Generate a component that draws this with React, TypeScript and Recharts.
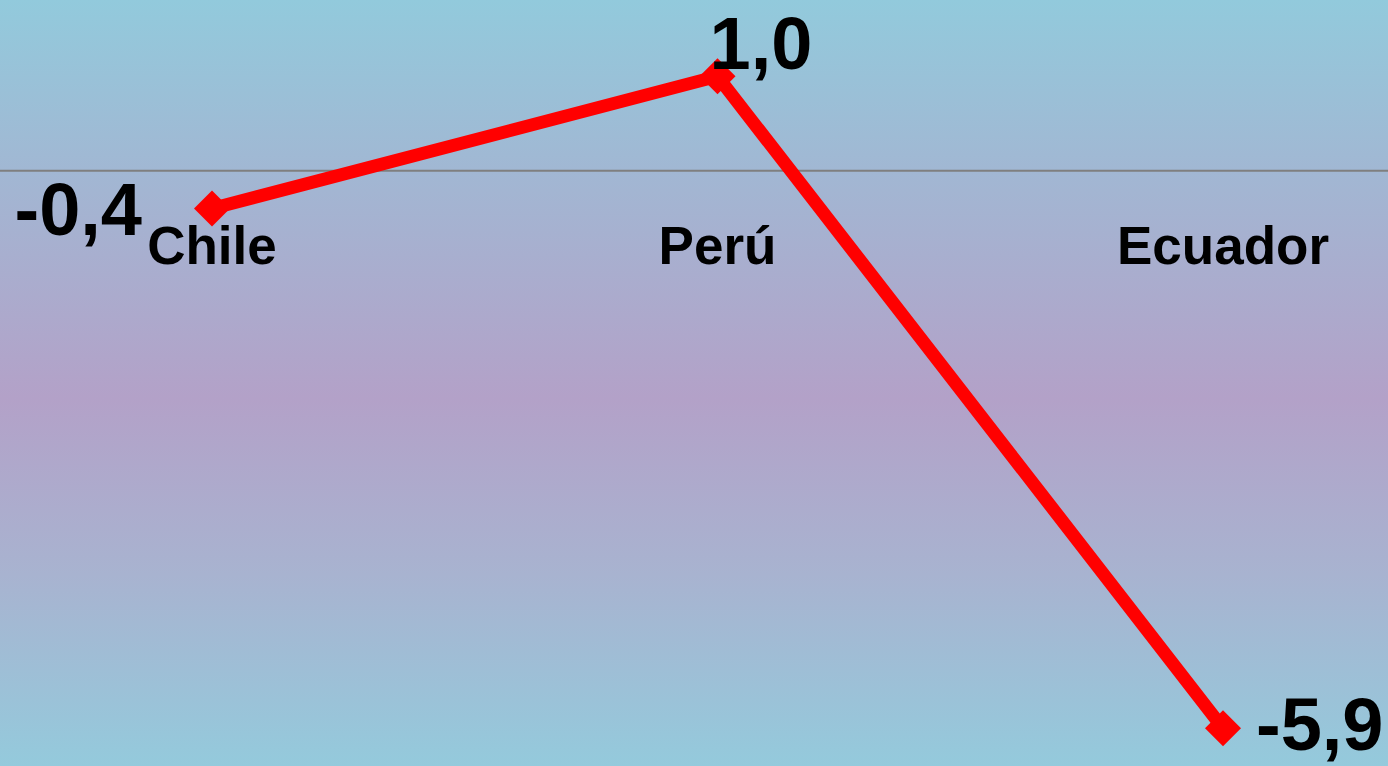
import React from "react";
import { LineChart, Line, XAxis, YAxis, ReferenceLine, LabelList } from "recharts";

const countries = ["Chile", "Perú", "Ecuador"];
const values = [-0.4, 1.0, -5.9];

// where each value label sits relative to its point
const labelSide: Record<string, "left" | "topRight" | "right"> = {
  Chile: "left",
  Perú: "topRight",
  Ecuador: "right",
};

const data = countries.map((country, i) => ({ country, value: values[i] }));

const WIDTH = 1388;
const HEIGHT = 766;
const FONT = "'Liberation Sans', Arial, Helvetica, sans-serif";
const CATEGORY_BASELINE = 264;

const fmt = (v: number) => v.toFixed(1).replace(".", ",");

function Diamond(props: any) {
  const { cx, cy } = props;
  if (cx == null || cy == null) return null;
  const r = 18;
  return (
    <polygon
      points={`${cx},${cy - r} ${cx + r},${cy} ${cx},${cy + r} ${cx - r},${cy}`}
      fill="#FF0000"
    />
  );
}

function CountryTick(props: any) {
  const { x, payload } = props;
  return (
    <text
      x={x}
      y={CATEGORY_BASELINE}
      textAnchor="middle"
      fontFamily={FONT}
      fontWeight="bold"
      fontSize={53}
      fill="#000"
    >
      {payload.value}
    </text>
  );
}

function ValueLabel(props: any) {
  const { x, y, value, index } = props;
  const side = labelSide[countries[index]];
  let tx = x;
  let ty = y;
  let anchor: "start" | "end" = "start";
  if (side === "left") {
    tx = x - 70;
    ty = y + 26;
    anchor = "end";
  } else if (side === "topRight") {
    tx = x - 8;
    ty = y - 7;
  } else {
    tx = x + 33;
    ty = y + 22;
  }
  return (
    <text
      x={tx}
      y={ty}
      textAnchor={anchor}
      fontFamily={FONT}
      fontWeight="bold"
      fontSize={74}
      fill="#000"
    >
      {fmt(value)}
    </text>
  );
}

export default function App() {
  return (
    <div
      style={{
        position: "fixed",
        left: 0,
        top: 0,
        width: WIDTH,
        height: HEIGHT,
        background:
          "linear-gradient(to bottom, #92CADC 0%, #A3B5D2 25%, #B3A1C8 52%, #A8B3D0 75%, #94CADC 100%)",
      }}
    >
      <LineChart width={WIDTH} height={HEIGHT} data={data} margin={{ top: 0, right: 0, bottom: 0, left: 0 }}>
        <XAxis
          dataKey="country"
          orientation="top"
          height={1}
          padding={{ left: 212, right: 165 }}
          axisLine={false}
          tickLine={false}
          tick={<CountryTick />}
          interval={0}
        />
        <YAxis hide type="number" domain={[-6.3, 1.797]} allowDataOverflow />
        <ReferenceLine y={0} stroke="#7F7F7F" strokeWidth={2} />
        <Line
          dataKey="value"
          stroke="#FF0000"
          strokeWidth={13}
          dot={<Diamond />}
          activeDot={false}
          isAnimationActive={false}
        >
          <LabelList dataKey="value" content={<ValueLabel />} />
        </Line>
      </LineChart>
    </div>
  );
}
